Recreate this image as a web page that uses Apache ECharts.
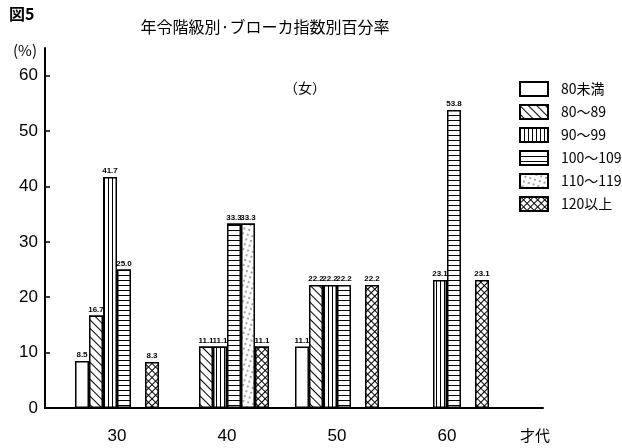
<!DOCTYPE html>
<html>
<head>
<meta charset="utf-8">
<script src="https://cdn.jsdelivr.net/npm/echarts@6/dist/echarts.min.js"></script>
<style>
html,body{margin:0;padding:0;background:#fff;}
#c{width:622px;height:448px;}
</style>
</head>
<body>
<div id="c"></div>
<script>
const categories = ['30', '40', '50', '60'];
const bands = ['80未満', '80～89', '90～99', '100～109', '110～119', '120以上'];
const v_under80 = [8.5, '-', 11.1, '-'];
const v_80_89 = [16.7, 11.1, 22.2, '-'];
const v_90_99 = [41.7, 11.1, 22.2, 23.1];
const v_100_109 = [25.0, 33.3, 22.2, 53.8];
const v_110_119 = ['-', 33.3, '-', '-'];
const v_120up = [8.3, 11.1, 22.2, 23.1];
const yTicks = [0, 10, 20, 30, 40, 50, 60];

const FONT = '"Noto Sans CJK JP", "Liberation Sans", sans-serif';
const decals = [
  null,
  {symbol: 'rect', symbolSize: 1, dashArrayX: [1, 0], dashArrayY: [1, 5], rotation: Math.PI / 4, color: '#000', backgroundColor: '#fff'},
  {symbol: 'rect', symbolSize: 1, dashArrayX: [1, 2.6], dashArrayY: [1, 0], rotation: 0, color: '#000', backgroundColor: '#fff'},
  {symbol: 'rect', symbolSize: 1, dashArrayX: [1, 0], dashArrayY: [1, 4], rotation: 0, color: '#000', backgroundColor: '#fff'},
  {symbol: 'circle', symbolSize: 0.7, dashArrayX: [[2, 3], [2, 3]], dashArrayY: [2, 2.5], rotation: 0.3, color: '#000', backgroundColor: '#fff'},
  {symbol: 'rect', symbolSize: 1, dashArrayX: [3.6, 1], dashArrayY: [3.6, 1], rotation: Math.PI / 4, color: '#fff', backgroundColor: '#000'}
];
const values = [v_under80, v_80_89, v_90_99, v_100_109, v_110_119, v_120up];

const series = bands.map((name, i) => ({
  name: name,
  type: 'bar',
  xAxisIndex: 1,
  yAxisIndex: 1,
  data: values[i],
  barWidth: 14,
  barGap: '0%',
  itemStyle: Object.assign({color: '#fff', borderColor: '#000', borderWidth: 1.5}, decals[i] ? {decal: decals[i]} : {}),
  label: {
    show: true, position: 'top', distance: 2,
    fontSize: 8, fontWeight: 'bold', color: '#000', fontFamily: '"Liberation Sans Narrow", "Liberation Sans", sans-serif',
    formatter: p => Number(p.value).toFixed(1)
  }
}));

const chart = echarts.init(document.getElementById('c'), null, {renderer: 'canvas'});
chart.setOption({
  backgroundColor: '#fff',
  animation: false,
  title: [
    {text: '図5', left: 4, top: 1, textStyle: {fontFamily: FONT, fontSize: 16, fontWeight: 'bold', color: '#000'}},
    {text: '年令階級別·ブローカ指数別百分率', left: 260, top: 14, textAlign: 'center', textStyle: {fontFamily: FONT, fontSize: 16, fontWeight: 'normal', color: '#000'}},
    {text: '（女）', left: 300, top: 76, textAlign: 'center', textStyle: {fontFamily: FONT, fontSize: 14, fontWeight: 'normal', color: '#000'}},
    {text: '(%)', left: 8, top: 38, textStyle: {fontFamily: FONT, fontSize: 15, fontWeight: 'normal', color: '#000'}},
    {text: '才代', left: 515, top: 423, textStyle: {fontFamily: FONT, fontSize: 15, fontWeight: 'normal', color: '#000'}}
  ],
  legend: {
    orient: 'vertical', left: 514, top: 76, itemWidth: 28, itemHeight: 14, itemGap: 7,
    icon: 'rect', data: bands,
    textStyle: {fontFamily: FONT, fontSize: 14, color: '#000', padding: [0, 0, 0, 8]}
  },
  grid: [
    {left: 45, right: 79, top: 48, bottom: 40},
    {left: 62, width: 440, top: 48, bottom: 40}
  ],
  xAxis: [
    {gridIndex: 0, type: 'value', min: 0, max: 1,
     axisLine: {show: true, lineStyle: {color: '#000', width: 2}},
     axisTick: {show: false}, axisLabel: {show: false}, splitLine: {show: false}},
    {gridIndex: 1, type: 'category', data: categories,
     axisLine: {show: false}, axisTick: {show: false},
     axisLabel: {margin: 20, fontSize: 17, color: '#000', fontFamily: '"Liberation Sans", sans-serif'}}
  ],
  yAxis: [
    {gridIndex: 0, type: 'value', min: 0, max: 65,
     axisLine: {show: true, lineStyle: {color: '#000', width: 2}},
     axisTick: {show: true, inside: true, length: 5, customValues: yTicks, lineStyle: {color: '#000', width: 1.5}},
     axisLabel: {customValues: yTicks, margin: 7, fontSize: 17, color: '#000', fontFamily: '"Liberation Sans", sans-serif'},
     splitLine: {show: false}},
    {gridIndex: 1, type: 'value', min: 0, max: 65, show: false, splitLine: {show: false}}
  ],
  series: series
});
</script>
</body>
</html>
